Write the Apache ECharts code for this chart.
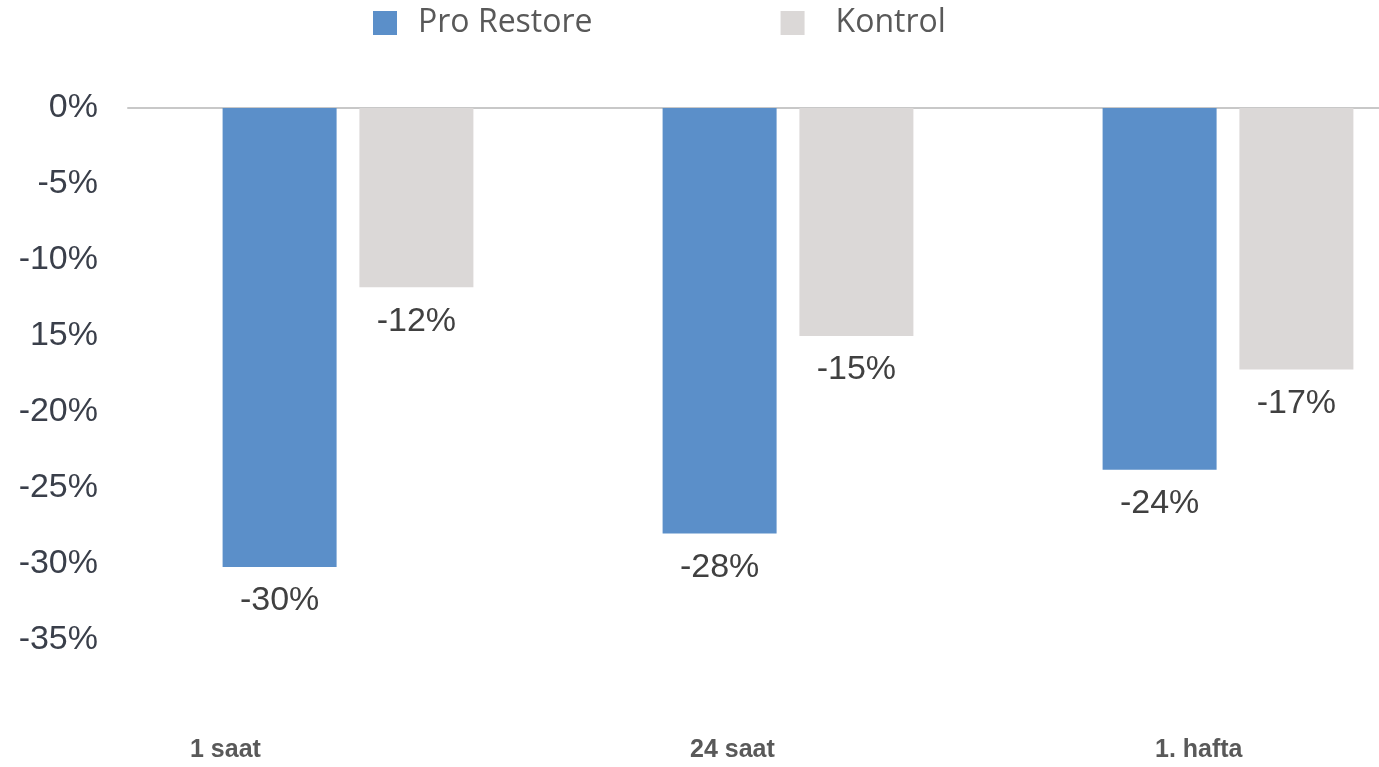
<!DOCTYPE html>
<html>
<head>
<meta charset="utf-8">
<script src="https://cdn.jsdelivr.net/npm/echarts@6/dist/echarts.min.js"></script>
<style>
  html, body { margin: 0; padding: 0; background: #fff; }
  #chart { width: 1379px; height: 767px; }
</style>
</head>
<body>
<div id="chart"></div>
<script>
const categories = ['1 saat', '24 saat', '1. hafta'];
const proRestore = [-30.2, -28, -23.8];
const kontrol = [-11.8, -15, -17.2];
const yTickLabels = ['0%', '-5%', '-10%', '15%', '-20%', '-25%', '-30%', '-35%'];

const dom = document.getElementById('chart');
const myEchart = echarts.init(dom);

const labelStyle = {
  show: true,
  position: 'bottom',
  distance: 17,
  color: '#404040',
  fontFamily: 'Liberation Sans, Arial',
  fontSize: 34,
  formatter: p => Math.round(p.value) + '%'
};

const option = {
  backgroundColor: '#fff',
  animation: false,
  legend: {
    top: 2,
    left: 368,
    itemWidth: 24,
    itemHeight: 24,
    itemGap: 188,
    icon: 'rect',
    formatter: name => (name === 'Kontrol' ? '{k|' + name + '}' : name),
    textStyle: {
      fontFamily: 'Open Sans, Noto Sans',
      fontSize: 32,
      color: '#595959',
      padding: [0, 0, 0, 16],
      rich: { k: { fontFamily: 'Open Sans, Noto Sans', fontSize: 32, color: '#595959', padding: [0, 0, 0, 10] } }
    },
    data: ['Pro Restore', 'Kontrol']
  },
  // the chart is cut off on the right: the last band runs past the edge
  grid: { left: 128, top: 108, right: -69, height: 532, outerBoundsMode: 'none', containLabel: false },
  xAxis: {
    type: 'category',
    data: categories,
    axisLine: { show: true, lineStyle: { color: '#c8c8c8', width: 2 } },
    axisTick: { show: false },
    axisLabel: { show: false }
  },
  yAxis: {
    type: 'value',
    min: -35,
    max: 0,
    interval: 5,
    axisLine: { show: false },
    axisTick: { show: false },
    splitLine: { show: false },
    axisLabel: {
      margin: 30,
      color: '#3a3f4a',
      fontFamily: 'Liberation Sans, Arial',
      fontSize: 34,
      formatter: v => yTickLabels[Math.round(-v / 5)]
    }
  },
  series: [
    {
      name: 'Pro Restore',
      type: 'bar',
      data: proRestore,
      barWidth: 114,
      barGap: '20%',
      itemStyle: { color: '#5b8fc9' },
      label: labelStyle
    },
    {
      name: 'Kontrol',
      type: 'bar',
      data: kontrol,
      barWidth: 114,
      barGap: '20%',
      itemStyle: { color: '#dbd8d7' },
      label: labelStyle
    }
  ],
  graphic: [
    { type: 'text', left: 190, top: 738, style: { text: categories[0], font: 'bold 25px Liberation Sans, Arial', fill: '#595959' } },
    { type: 'text', left: 690, top: 738, style: { text: categories[1], font: 'bold 25px Liberation Sans, Arial', fill: '#595959' } },
    { type: 'text', left: 1155, top: 738, style: { text: categories[2], font: 'bold 25px Liberation Sans, Arial', fill: '#595959' } }
  ]
};

myEchart.setOption(option, true);
</script>
</body>
</html>
